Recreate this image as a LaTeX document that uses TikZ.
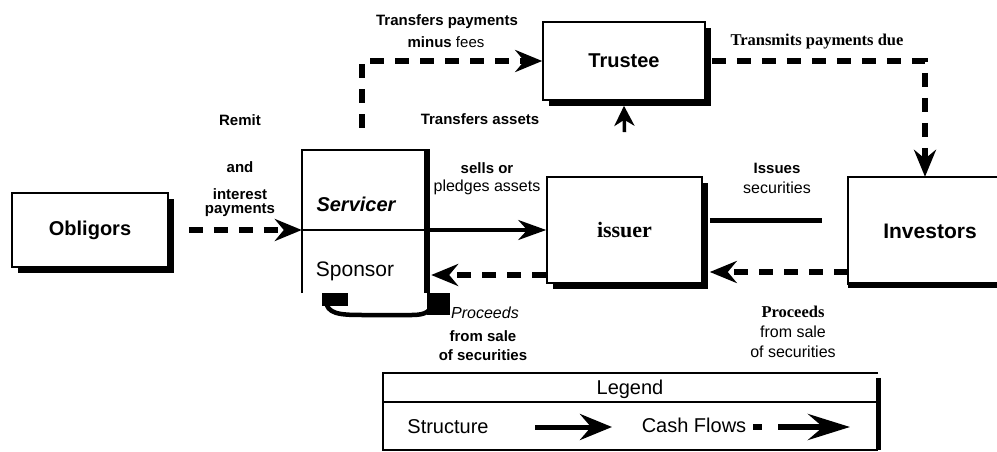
\documentclass[tikz,border=0pt]{standalone}
\usepackage{fontspec}
\setmainfont{Liberation Sans}
\newfontfamily\serifb{Liberation Serif}
\usetikzlibrary{arrows.meta,shadows,calc}
\begin{document}
\begin{tikzpicture}[x=1pt,y=-1pt,
  box/.style={draw,line width=1.6pt,rectangle,inner sep=0pt,fill=white,
     drop shadow={shadow xshift=6pt,shadow yshift=-6pt,fill=black,opacity=1}},
  lb/.style={inner sep=0pt,font=\fontsize{15}{17}\selectfont\bfseries},
  lr/.style={inner sep=0pt,font=\fontsize{16}{18}\selectfont},
  ls/.style={inner sep=0pt,font=\fontsize{16.5}{18}\selectfont\serifb\bfseries},
  cash/.style={line width=6pt,dash pattern=on 14pt off 11pt,-{Stealth[length=27pt,width=22pt,inset=9pt]}},
  struct/.style={line width=3.5pt,-{Stealth[length=28pt,width=20pt,inset=9pt]}},
  thin/.style={line width=1.6pt},
]
\useasboundingbox (0,0) rectangle (997,452);
\fill[white] (0,0) rectangle (997,452);

% main boxes
\node[box,minimum width=156pt,minimum height=74pt,font=\fontsize{20}{24}\selectfont\bfseries] (obl) at (90,230) {Obligors};
\node[box,minimum width=155pt,minimum height=106pt,font=\fontsize{22}{24}\selectfont\serifb\bfseries] (iss) at (624.5,230) {issuer};
\node[box,minimum width=162pt,minimum height=78pt,font=\fontsize{20}{24}\selectfont\bfseries] (tru) at (624,61) {Trustee};

% servicer / sponsor
\node[minimum width=125pt,minimum height=143pt,inner sep=0pt] (ss) at (364.5,221.5) {};
\draw[thin] (ss.south west) -- (ss.north west) -- (ss.north east);
\draw[line width=6pt] ([yshift=0.8pt]ss.north east) -- (ss.south east);
\draw[line width=2.5pt] (ss.west |- iss.west) -- (ss.east |- iss.west);
\node[inner sep=0pt,font=\fontsize{20}{24}\selectfont\bfseries\itshape] (serv) at (356,204) {Servicer};
\node[inner sep=0pt,font=\fontsize{21}{24}\selectfont] (spon) at (355,271) {Sponsor};
\fill (322,293) rectangle (348,306);
\fill (427,293) rectangle (450,315);
\draw[line width=4.5pt] (326,300) .. controls (326,314) and (340,315) .. (362,315) -- (412,315) .. controls (426,315) and (431,311) .. (431,304);

% investors
\node[minimum width=164pt,minimum height=108pt,inner sep=0pt,font=\fontsize{21}{24}\selectfont\bfseries] (inv) at (930,231) {Investors};
\draw[thin] (inv.north east) -- (inv.north west) -- (inv.south west);
\draw[line width=6pt] (inv.south west) -- (inv.south east);

% connectors
\draw[cash] ([xshift=20pt]obl.east) -- (obl.east -| ss.west);
\draw[struct] (iss.west -| ss.east) -- (iss.west);
\coordinate (issL) at ([yshift=-45pt]iss.west);
\draw[cash] (issL) -- ([xshift=4pt]issL -| ss.east);
\coordinate (invL) at ([yshift=-41pt]inv.west);
\coordinate (issR) at ([xshift=7pt]iss.east);
\draw[cash] (invL) -- (invL -| issR);
\coordinate (isL) at ([xshift=7pt,yshift=10pt]iss.east);
\coordinate (isR) at ($(inv.west |- isL)+(-26,0)$);
\draw[line width=5pt] (isL) -- (isR);
\draw[cash] ([xshift=-2.5pt,yshift=22pt]ss.north) |- (tru.west);
\draw[line width=3.5pt,-{Stealth[length=20pt,width=20pt,inset=6pt]}] ([yshift=44pt]iss.north) -- ([yshift=-5pt]tru.south);
\draw[cash] ([xshift=6pt]tru.east) -| ([xshift=-5pt]inv.north);

% labels
\node[lb] (remit) at (240,120) {Remit};
\node[lb] (and) at (240,167) {and};
\node[lb] (intr) at (240,194) {interest};
\node[lb] (paym) at (240,210) {payments};
\node[lb] (tp1) at (447,22) {Transfers payments};
\node[lb] (tp2) at (446,42) {minus {\mdseries fees}};
\node[lb] (ta) at (480,119) {Transfers assets};
\node[lb] (so1) at (487,168) {sells or};
\node[lr] (so2) at (487,187) {pledges assets};
\node[ls] (tpd) at (817,42) {Transmits payments due};
\node[lb] (is1) at (777,168) {Issues};
\node[lr] (is2) at (777,188) {securities};
\node[lr,font=\fontsize{16}{18}\selectfont\itshape] (pr1) at (485,313) {Proceeds};
\node[lb] (pr2) at (483,336) {from sale};
\node[lb] (pr3) at (483,355) {of securities};
\node[ls] (pr4) at (793,312) {Proceeds};
\node[lr] (pr5) at (793,332) {from sale};
\node[lr] (pr6) at (793,352) {of securities};

% legend
\node[minimum width=495pt,minimum height=77pt,inner sep=0pt] (leg) at (630.5,411.5) {};
\draw[thin] (leg.north east) -- (leg.north west) -- (leg.south west) -- (leg.south east);
\draw[line width=5pt] ([yshift=-5pt]leg.north east) -- (leg.south east);
\draw[thin] ($(leg.north west)+(0,29)$) -- ($(leg.north east)+(0,29)$);
\node[inner sep=0pt,font=\fontsize{20}{24}\selectfont] (legt) at (630,389) {Legend};
\node[inner sep=0pt,font=\fontsize{20}{24}\selectfont] (lst) at (448,427) {Structure};
\node[inner sep=0pt,font=\fontsize{20}{24}\selectfont] (lcf) at (694,425) {Cash Flows};
\coordinate (ls1) at (535,427);
\coordinate (ls2) at (612,427);
\draw[line width=5pt,-{Stealth[length=32pt,width=26pt,inset=11pt]}] (ls1) -- (ls2);
\coordinate (lc1) at (753,427);
\coordinate (lc2) at (850,427);
\draw[line width=6pt,dash pattern=on 9pt off 16pt on 60pt,-{Stealth[length=42pt,width=26pt,inset=15pt]}] (lc1) -- (lc2);
\end{tikzpicture}
\end{document}
